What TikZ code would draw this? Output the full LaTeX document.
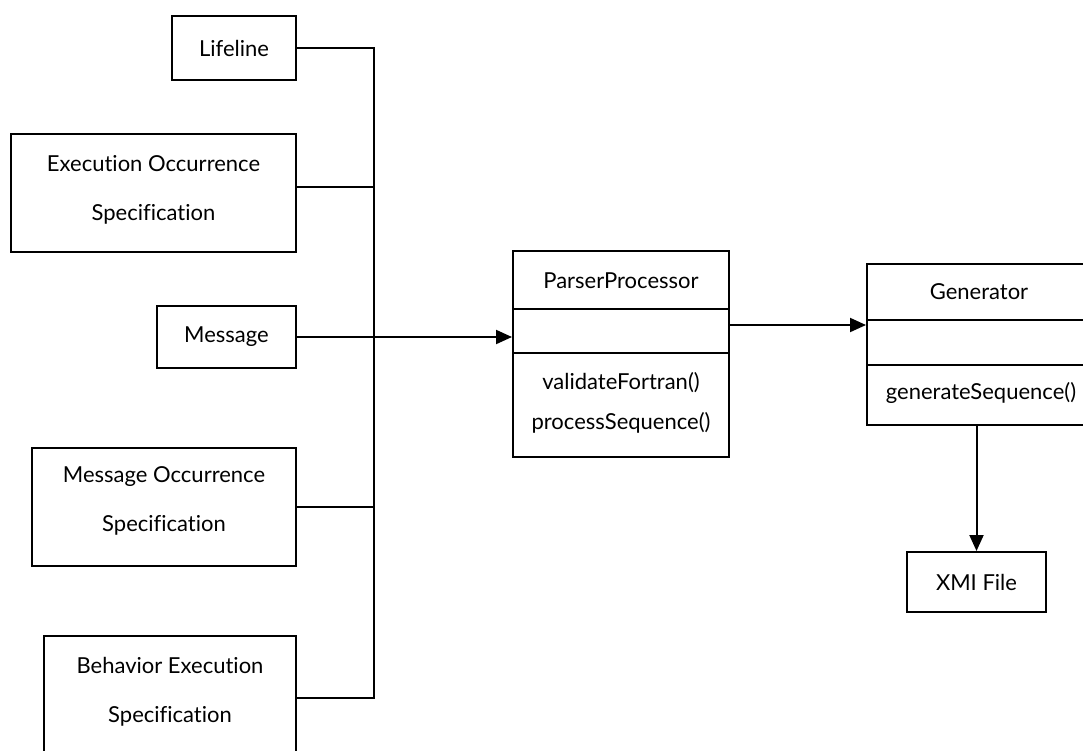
\documentclass[tikz,border=0pt]{standalone}
\usepackage{fontspec}
\setmainfont{Lato}[Ligatures=NoCommon]
\usetikzlibrary{arrows.meta}
\begin{document}
\begin{tikzpicture}[x=1pt,y=-1pt,
  box/.style={draw,line width=2pt,inner sep=0pt,align=center,
    font=\fontsize{22}{49}\selectfont},
  label/.style={inner sep=0pt,font=\fontsize{22}{49}\selectfont},
  link/.style={line width=2pt},
  arr/.style={line width=2pt,-{Triangle[length=16pt,width=14pt]}}]
\useasboundingbox (0,0) rectangle (1083,750);

% source elements on the left
\node[box,minimum width=124pt,minimum height=64pt] (life) at (234,48) {Lifeline};
\node[box,minimum width=285pt,minimum height=118pt,text depth=11pt] (exec) at (153.5,193)
  {Execution Occurrence\\Specification};
\node[box,minimum width=139pt,minimum height=62pt] (msg) at (226.5,337) {Message};
\node[box,minimum width=264pt,minimum height=118pt,text depth=15pt] (mocc) at (164,507)
  {Message Occurrence\\Specification};
\node[box,minimum width=252pt,minimum height=128pt,text depth=20pt] (behav) at (170,700)
  {Behavior Execution\\Specification};

% collecting bus
\coordinate (bustop) at (374,48);
\coordinate (busbot) at (374,698);
\draw[link] (life.east) -- (bustop) -- (busbot) -- (behav.east |- busbot);
\draw[link] ([yshift=6pt]exec.east) -- ([yshift=6pt]exec.east -| bustop);
\draw[link] (mocc.east) -- (mocc.east -| bustop);

% ParserProcessor class
\node[draw,line width=2pt,minimum width=216pt,minimum height=206pt] (pp) at (621,354) {};
\coordinate (pp1) at (0,309);
\coordinate (pp2) at (0,353);
\draw[link] (pp.west |- pp1) -- (pp.east |- pp1);
\draw[link] (pp.west |- pp2) -- (pp.east |- pp2);
\node[label] (ppname) at (621,281) {ParserProcessor};
\node[label] (ppop1) at (621,383) {validateFortran()};
\node[label] (ppop2) at (621,423) {processSequence()};

% Generator class
\node[draw,line width=2pt,minimum width=223pt,minimum height=161pt] (gen) at (978.5,344.5) {};
\coordinate (gen1) at (0,320);
\coordinate (gen2) at (0,365);
\draw[link] (gen.west |- gen1) -- (gen.east |- gen1);
\draw[link] (gen.west |- gen2) -- (gen.east |- gen2);
\node[label] (genname) at (979,292) {Generator};
\node[label] (genop) at (981,393) {generateSequence()};

% output artefact
\node[box,minimum width=139pt,minimum height=60pt] (xmi) at (976.5,582) {XMI File};

% arrows
\draw[arr] (msg.east) -- (msg.east -| pp.west);
\draw[arr] ([yshift=29pt]pp.east) -- ([yshift=29pt]pp.east -| gen.west);
\draw[arr] (xmi.north |- gen.south) -- (xmi.north);
\end{tikzpicture}
\end{document}
